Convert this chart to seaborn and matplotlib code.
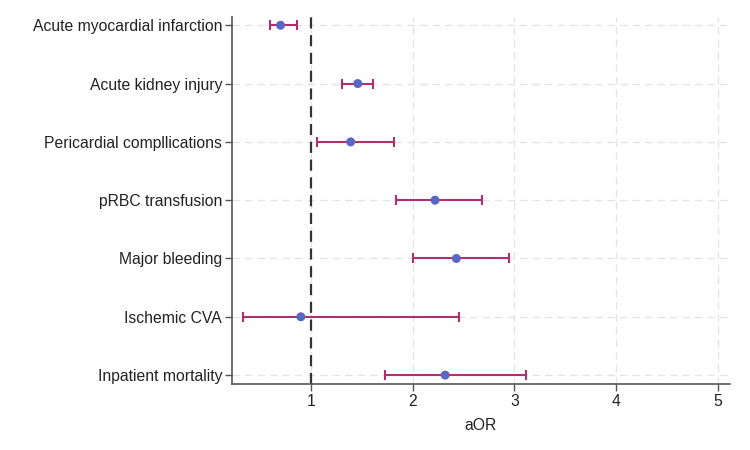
import matplotlib
matplotlib.use("Agg")
import matplotlib.pyplot as plt
import seaborn as sns
import pandas as pd
import numpy as np

outcomes = ["Acute myocardial infarction", "Acute kidney injury", "Pericardial compllications",
            "pRBC transfusion", "Major bleeding", "Ischemic CVA", "Inpatient mortality"]
aor = [0.70, 1.46, 1.39, 2.22, 2.43, 0.90, 2.32]
ci_low = [0.60, 1.30, 1.06, 1.84, 2.00, 0.33, 1.73]
ci_high = [0.86, 1.61, 1.82, 2.68, 2.95, 2.46, 3.12]
xticks = [1, 2, 3, 4, 5]

sns.set_theme(style="white")
plt.rcParams['font.family'] = ['Liberation Sans', 'DejaVu Sans']

df = pd.DataFrame({"outcome": outcomes, "aor": aor, "lo": ci_low, "hi": ci_high})
df["pos"] = np.arange(len(df))

fig = plt.figure(figsize=(7.5, 4.5), dpi=100)
ax = fig.add_axes([0.309, 0.147, 0.664, 0.815])

# grid
for xv in xticks:
    ax.axvline(xv, color="#e3e3e3", lw=0.9, ls=(0, (6, 4)), zorder=0)
for yv in df["pos"]:
    ax.axhline(yv, color="#e3e3e3", lw=0.9, ls=(0, (6, 4)), zorder=0)

ax.axvline(1, color="#333333", lw=1.6, ls=(0, (5, 3)), zorder=1)

ax.errorbar(df["aor"], df["pos"],
            xerr=[df["aor"] - df["lo"], df["hi"] - df["aor"]],
            fmt="none", ecolor="#b0306e", elinewidth=1.5, capsize=3.5, capthick=1.5, zorder=2)
sns.scatterplot(data=df, x="aor", y="pos", color="#5866c4", s=42, edgecolor="none", ax=ax, zorder=3)

ax.set_xlim(0.22, 5.12)
ax.set_ylim(6.15, -0.14)
ax.set_yticks(df["pos"])
ax.set_yticklabels(outcomes)
ax.set_xticks(xticks)
ax.set_xticklabels([str(v) for v in xticks])
ax.set_xlabel("aOR", fontsize=11.3, color="#222222", labelpad=7)
ax.set_ylabel("")

for s in ["top", "right"]:
    ax.spines[s].set_visible(False)
for s in ["left", "bottom"]:
    ax.spines[s].set_color("#555555")
    ax.spines[s].set_linewidth(1.2)
ax.tick_params(axis="both", which="both", direction="out", length=5, width=1, color="#555555",
               labelsize=11.3, labelcolor="#222222", bottom=True, left=True, pad=2)

fig.savefig("out.png", dpi=100)
